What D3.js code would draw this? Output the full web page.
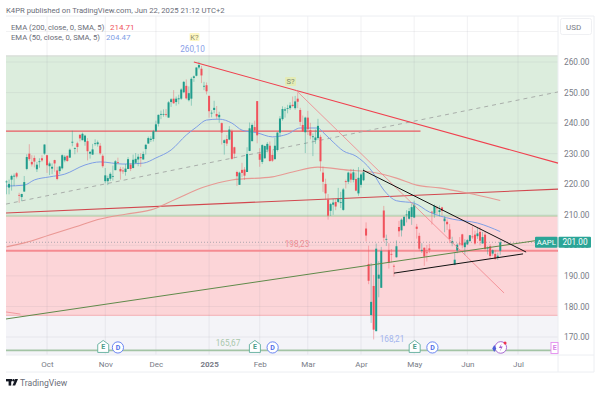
<!DOCTYPE html>
<html>
<head>
<meta charset="utf-8">
<script src="https://cdn.jsdelivr.net/npm/d3@7"></script>
<style>
    html, body { margin: 0; padding: 0; background: #fff; }
    svg { display: block; }
    text { font-family: Roboto, "Open Sans", sans-serif; }
</style>
</head>
<body>
<svg id="svg"></svg>
<script>
// daily bars, first one is 9 Sep 2024, one row per month
const opens = [
    220.8,218.9,221.5,222.5,223.6,216.5,215.8,217.6,225,230,227.3,228.6,224.9,227.3,228.5,230,
    229.5,225.9,225.1,227.9,224.5,224.3,225.2,227.8,229.3,228.7,233.6,231.6,233.4,236.2,234.4,233.9,234.1,230,229.7,233.3,233.1,232.6,229.3,
    221,221,221.8,222.6,224.6,227.2,225,224.5,224,225,226.4,225.3,227,228.1,228.9,228.1,231.5,233.3,234.5,234.8,
    237.3,239.8,242.9,243,242.9,241.8,246.9,248,246.9,247.8,248,250.1,252.2,247.5,248,254.8,255.5,258.2,257.8,252.2,252.4,
    248.9,243.4,244.3,243,241.9,240,233.5,234.8,234.6,237.4,232.1,224,219.8,224.7,224.8,224,230.9,234.1,238.7,247.2,
    230,227.3,228.5,231.3,232.6,229.6,228.2,231.2,236.9,241.3,244.1,244.7,244.9,246,244.9,248,244.3,239.4,237,
    241.8,237.7,235.4,234.4,235.1,235.5,223.8,220.1,215,211.3,213.3,214.2,214.2,214,211.6,221,220.8,223.5,221.4,221.7,217,
    219.8,221.3,205.5,193.9,177.2,186.7,171.9,189.1,186.1,211.4,202,198.4,197.2,193.3,196.1,206,204.9,206.4,210,208.7,209.3,
    209.1,206.1,203.1,198.2,199.2,197.7,199,211,210.4,212.4,210.9,212.4,207.9,207.7,205.2,200.7,193.7,198.3,200.6,203.6,199.4,
    200.3,201.4,202.9,203.5,203,204.4,200.6,203.5,199.1,199.7,197.3,197.2,195.9,198.2
];
const highs = [
    221.3,221.5,223.1,223.5,224,217.2,216.9,222.7,229.8,233.1,229.5,229.4,227.3,228.5,229.5,233,
    229.6,227.4,226.8,228,225.7,226,229.8,229.5,229.4,231.7,237.5,232.1,233.9,236.2,236.9,236.2,235.1,230.8,233.2,234.7,234.3,233.5,229.8,
    225.3,222.8,223.9,226.1,227.9,228.7,225.7,225.6,226.6,228.9,226.9,229.7,230.2,229.9,230.2,230.7,233.2,235.6,235.7,237.8,
    240.8,242.8,244.1,244.5,244.6,247.2,248.2,250.8,248.7,249.3,251.4,253.8,254.3,252,255,255.6,258.2,260.1,258.7,253.5,253.3,
    249.1,244.2,247.3,245.6,243.7,240.2,234.7,236.1,239,238,232.3,224.4,224.1,227,225.6,232.1,240.2,239.9,240.8,247.2,
    231.8,233.1,232.7,233.8,234,231,235.2,237,242.3,245.5,245.2,246,246.8,248.7,248.9,250,245,242.5,242.1,
    244,240.1,236.6,237.9,241.4,236.2,225.8,221.8,216.8,213.9,215.2,215.1,218.8,217.5,218.8,221.5,224.1,225,225,223.8,225.6,
    223.7,225.2,207.5,199.9,194.2,190.3,200.6,194.8,199.5,212.9,203.5,200.7,198.8,193.8,201.6,208,208.8,209.7,211.5,212.2,213.6,
    214.6,207,204.1,200.7,199.4,200.1,200.5,211.3,213.4,213,213,212.6,209.5,208.5,207,202.8,197.7,200.7,202.7,203.8,202,
    202.1,203.4,206.2,204.8,205.7,206,204.4,204.5,199.7,200.4,198.7,198.4,197.6,201.7
];
const lows = [
    216.7,216.7,217.9,219.4,221.9,213.9,214.5,217.5,224.6,227.6,225.8,225.5,224,225.4,227.3,229.6,
    223.7,223,223.3,224.1,221.3,223.3,224.8,227.2,227.3,228.6,232.4,229.8,230.4,234,234.4,232.6,227.8,228.4,229.6,232.6,232.3,229.6,225.4,
    220.3,219.7,221.1,221.2,224.6,226.7,221.5,223.4,222.8,225,224.3,225.2,226.7,225.9,225.7,228.1,229.7,233.3,233.8,234,
    237.2,238.9,241.3,242.1,242.1,241.8,245.3,246.3,245.7,246.2,247.6,249.8,247.7,247.1,245.7,253.5,255.3,257.6,253.1,250.8,249.4,
    241.8,241.9,243.2,241.4,240.1,233,229.7,232.5,234.4,228,228.5,219.4,219.8,222.3,221.4,224,230.8,234,237.2,233.4,
    225.7,226.6,228.3,230.4,227.3,227.3,228.1,230.7,235.6,240.8,241.8,243.2,244.3,245.2,244.4,244.9,239.1,237.1,230.2,
    236.1,234.7,229.2,233.2,234.5,224.2,217.5,214.9,208.4,209.6,210,211.5,213.8,212.2,211.3,218.6,220.1,220.5,220.6,217.7,216.2,
    218.9,221,201.3,187.3,174.6,169.2,171.9,183,186.1,201.2,199.8,192.4,194.4,189.8,196,202.8,202.9,206.2,207.5,208.4,206.7,
    208.9,202.2,198.2,197.5,193.3,194.7,197.5,206.8,209,210.2,209.5,209.8,204.3,205,200.7,199.7,193.5,197.4,199.9,199,196.8,
    200.1,201,202.1,200.2,202.1,200,200.6,198.4,197,195.7,196.6,195.2,195.2,196.9
];
const closes = [
    220.9,220.1,222.7,222.8,222.5,216.3,216.8,220.7,228.9,228.2,226.5,227.4,226.4,227.5,227.8,233,
    226.2,226.8,225.7,226.8,221.7,225.8,229.5,229,227.6,231.3,233.9,231.8,232.2,235,236.5,235.9,230.8,230.6,231.4,233.4,233.7,230.1,225.9,
    222.9,222,223.4,222.7,227.5,227,224.2,224.2,225.1,228.2,225,228,228.3,229,228.5,229.9,232.9,235.1,234.9,237.3,
    239.6,242.7,243,243,242.8,246.8,247.8,246.5,248,248.1,251,253.5,248.1,249.8,254.5,255.3,258.2,259,255.6,252.2,250.4,
    243.9,243.4,245,242.2,242.7,236.9,234.4,233.3,237.9,228.3,230,222.6,223.8,223.7,222.8,229.9,238.3,239.4,237.6,236,
    228,232.8,232.5,233.2,227.6,227.7,232.6,236.9,241.5,244.6,244.5,244.9,245.8,245.6,247.1,247,240.4,237.3,241.8,
    238,235.9,235.7,235.3,239.1,227.5,220.8,217,209.7,213.5,214,212.7,215.2,214.1,218.3,220.7,223.8,221.5,223.9,217.9,222.1,
    223.2,223.9,203.2,188.4,181.5,172.4,198.9,190.4,198.2,202.5,202.1,194.3,197,193.2,199.7,204.6,208.4,209.3,210.1,211.2,212.5,
    213.3,205.4,198.9,198.5,196.3,197.5,198.5,210.8,212.9,212.3,211.5,211.3,208.8,206.9,202.1,201.4,195.3,200.2,200.4,200,200.9,
    201.7,203.3,202.8,200.6,203.9,201.5,202.7,198.8,199.2,196.5,198.4,195.6,196.6,201
];

// moving averages: bar index / price
const sma50Bars = [0,7,11,17,23,31,37,46,54,59,65,71,75,79,84,89,93,99,105,111,116,123,125,129,133,138,144,149,154,161,167,176,186,195];
const sma50Vals = [219.4,219.7,221.4,222.4,223.3,226.3,227.3,226.6,226.9,228.6,231.2,236.1,238.7,241,241.3,240,237.7,236.8,235.5,236.4,238.4,238.4,237,233.8,230.9,229.2,224.6,218.1,214.6,213.8,210.9,208.6,207.3,204.5];
const sma200Bars = [0,7,17,27,37,47,57,67,78,89,105,113,123,135,144,154,162,171,182,195];
const sma200Vals = [199.5,200.8,203.4,206,208.6,210.2,211.6,215.2,219.1,221.4,222.4,224,225.6,224.6,224,222,219.7,218.8,217.1,214.7];

// drawings on the chart, [bar, price] at both ends
const thickRedTrend = [[74,260],[217.8,226.9]];
const thinRedTrend = [[114.3,250.8],[196.5,184.4]];
const dashedTrend = [[-0.2,213.5],[217.8,250.2]];
const darkRedTrend = [[-0.2,210.6],[217.8,218.4]];
const oliveTrend = [[-0.2,175.9],[208.7,201.5]];
const blackUpper = [[140.8,224.6],[205.2,197.8]];
const blackLower = [[153,190.9],[204,197.2]];
const smallPinkTrend = [[-0.2,178.2],[5.5,177.5]];

const level237 = 237.4;
const level198 = 198.23;
const lastPrice = 201;
const zoneTop = 262;
const zoneMid = 209.6;
const zoneLow = 177.1;
const baseLine = 165.6;

const priceTicks = [170,180,190,200,210,220,230,240,250,260];
const monthTicks = [16,39,59,80,100,119,140,161,182,202];
const monthLabels = ["Oct","Nov","Dec","2025","Feb","Mar","Apr","May","Jun","Jul"];

// earnings / dividend markers at the bottom of the chart
const earningsBars = [38.2,98.1,161.2];
const dividendBars = [44,105.1,168.2];

const UP = "#1f9c8c", DOWN = "#f0525c", GREY = "#787b86";

const svg = d3.select("#svg").attr("width", 600).attr("height", 393);

const x = d3.scaleLinear().domain([-0.2, 217.8]).range([6, 558]);
const y = d3.scaleLinear().domain([170, 260]).range([337, 62]);
const plotTop = 16, plotBottom = 355, axisBottom = 372, rightEdge = 594;

// background zones
svg.append("rect").attr("x", 6).attr("y", y(zoneTop)).attr("width", 552).attr("height", y(zoneMid) - y(zoneTop)).attr("fill", "#dcedDd");
svg.append("rect").attr("x", 6).attr("y", y(zoneMid)).attr("width", 552).attr("height", y(zoneLow) - y(zoneMid)).attr("fill", "#fcd5d8");
svg.append("rect").attr("x", 6).attr("y", y(zoneLow)).attr("width", 552).attr("height", plotBottom - y(zoneLow)).attr("fill", "#f4f4f8");
svg.append("line").attr("x1", 6).attr("x2", 558).attr("y1", y(zoneTop)).attr("y2", y(zoneTop)).attr("stroke", "#d8dcd8").attr("stroke-width", 1.2);
svg.append("line").attr("x1", 6).attr("x2", 558).attr("y1", y(zoneMid)).attr("y2", y(zoneMid)).attr("stroke", "#a9c99a").attr("stroke-width", 1);
svg.append("line").attr("x1", 6).attr("x2", 558).attr("y1", y(zoneLow)).attr("y2", y(zoneLow)).attr("stroke", "#f3aeb3").attr("stroke-width", 1);

// grid
const gridG = svg.append("g");
gridG.selectAll(".v").data(monthTicks).enter().append("line")
    .attr("x1", d => x(d)).attr("x2", d => x(d)).attr("y1", plotTop).attr("y2", plotBottom)
    .attr("stroke", "#8a8f9c").attr("stroke-opacity", 0.12);
gridG.selectAll(".h").data(priceTicks.concat([270])).enter().append("line")
    .attr("x1", 6).attr("x2", 558).attr("y1", d => y(d)).attr("y2", d => y(d))
    .attr("stroke", "#8a8f9c").attr("stroke-opacity", 0.12);

// frame
const frame = [[6, plotTop, rightEdge, plotTop], [558, plotTop, 558, axisBottom], [rightEdge, plotTop, rightEdge, axisBottom], [6, plotBottom, rightEdge, plotBottom], [6, axisBottom, rightEdge, axisBottom]];
svg.selectAll(".frame").data(frame).enter().append("line")
    .attr("x1", d => d[0]).attr("y1", d => d[1]).attr("x2", d => d[2]).attr("y2", d => d[3])
    .attr("stroke", "#eceef2");

// axes
const yAxis = svg.append("g").attr("transform", "translate(558,0)")
    .call(d3.axisRight(y).tickValues(priceTicks).tickSize(0).tickPadding(6).tickFormat(d3.format(".2f")));
yAxis.select(".domain").remove();
yAxis.selectAll("text").attr("fill", GREY).attr("font-size", 8.3).style("font-family", "Roboto");

const xAxis = svg.append("g").attr("transform", "translate(0," + plotBottom + ")")
    .call(d3.axisBottom(x).tickValues(monthTicks).tickSize(0).tickPadding(6).tickFormat((d, i) => monthLabels[i]));
xAxis.select(".domain").remove();
xAxis.selectAll("text").attr("fill", GREY).attr("font-size", 8).style("font-family", "Roboto")
    .attr("font-weight", (d, i) => monthLabels[i] === "2025" ? 700 : 400);

// lines that sit under the candles
const chartLine = d3.line().x(d => x(d[0])).y(d => y(d[1]));
function trend(pts, color, width, dash) {
    svg.append("path").attr("d", chartLine(pts)).attr("fill", "none")
        .attr("stroke", color).attr("stroke-width", width).attr("stroke-dasharray", dash || null);
}
trend([[-0.2, lastPrice],[217.8, lastPrice]], "#9a9aa5", 0.8, "1 2");
trend([[-0.2, level198],[217.8, level198]], "#f58b92", 2);
trend([[-0.2, level237],[163.5, level237]], "#ea5a62", 1.2);
trend(darkRedTrend, "#d2474e", 1.1);
trend(dashedTrend, "#a9aeaa", 1, "4 4");
trend(smallPinkTrend, "#f08a90", 0.8);

const maLine = d3.line().x((d, i) => x(d[0])).y(d => y(d[1])).curve(d3.curveMonotoneX);
svg.append("path").attr("d", maLine(d3.zip(sma200Bars, sma200Vals))).attr("fill", "none").attr("stroke", "#e8908c").attr("stroke-width", 1.1).attr("stroke-opacity", 0.9);
svg.append("path").attr("d", maLine(d3.zip(sma50Bars, sma50Vals))).attr("fill", "none").attr("stroke", "#7f9fe6").attr("stroke-width", 1);

// candles
const bars = d3.range(closes.length);
svg.append("g").selectAll("line").data(bars).enter().append("line")
    .attr("x1", i => x(i)).attr("x2", i => x(i)).attr("y1", i => y(highs[i])).attr("y2", i => y(lows[i]))
    .attr("stroke", i => closes[i] >= opens[i] ? UP : DOWN).attr("stroke-opacity", 0.4).attr("stroke-width", 1);
svg.append("g").selectAll("rect").data(bars).enter().append("rect")
    .attr("x", i => x(i) - 1)
    .attr("width", 2)
    .attr("y", i => y(Math.max(opens[i], closes[i])))
    .attr("height", i => Math.max(0.8, Math.abs(y(opens[i]) - y(closes[i]))))
    .attr("fill", i => closes[i] >= opens[i] ? UP : DOWN);

// trend lines on top
trend(thickRedTrend, "#f0404e", 1.1);
trend(thinRedTrend, "#f2838a", 0.8);
trend(oliveTrend, "#5f8a4a", 1);
trend(blackUpper, "#111", 1);
trend(blackLower, "#111", 1);
trend([[-0.2, baseLine],[217, baseLine]], "#a3c4a5", 1.8);

// header + legend
function label(px, py, str, color, size, anchor, weight) {
    return svg.append("text").attr("x", px).attr("y", py).attr("fill", color).attr("font-size", size)
        .attr("text-anchor", anchor || "start").attr("font-weight", weight || 400).text(str);
}
label(6, 13, "K4PR published on TradingView.com, Jun 22, 2025 21:12 UTC+2", "#6a6d78", 7.7);
label(11, 30, "EMA (200, close, 0, SMA, 5)", "#6a6d78", 7.7);
label(110, 30, "214.71", "#f0525c", 8);
label(11, 40, "EMA (50, close, 0, SMA, 5)", "#6a6d78", 7.7);
label(106, 40, "204.47", "#7f9fe6", 8);

// price labels on the chart
label(192.5, 52, "260,10", "#8b9fe8", 8.2, "middle");
label(392, 342, "168,21", "#a3b4ee", 8.2, "middle");
label(228, 346, "165,67", "#a9c8ab", 8.2, "middle");
label(297, 247, "198,23", "#ef8f95", 8.2, "middle");

// K? and S? badges
svg.append("rect").attr("x", 189.5).attr("y", 33).attr("width", 10).attr("height", 8).attr("rx", 1).attr("fill", "#fdf7c3");
label(194.5, 40, "K?", "#8f8f6a", 7.6, "middle");
svg.append("rect").attr("x", 285).attr("y", 77).attr("width", 11).attr("height", 9).attr("rx", 1).attr("fill", "#e4ecb5");
label(290.5, 84.3, "S?", "#7b8a70", 7.6, "middle");

// USD box
svg.append("rect").attr("x", 560.5).attr("y", 18.5).attr("width", 31).attr("height", 16).attr("rx", 2).attr("fill", "#fff").attr("stroke", "#eff0f3");
label(566, 29.5, "USD", GREY, 8);

// symbol tag
const tagY = y(lastPrice);
svg.append("rect").attr("x", 535).attr("y", tagY - 5.5).attr("width", 22.5).attr("height", 11).attr("rx", 1).attr("fill", "#2aa597");
svg.append("rect").attr("x", 558.5).attr("y", tagY - 5.5).attr("width", 32.5).attr("height", 11).attr("rx", 1).attr("fill", "#2aa597");
label(546.3, tagY + 3, "AAPL", "#fff", 7.8, "middle");
label(575, tagY + 3, "201.00", "#fff", 8.2, "middle");

// event markers
const eY = y(baseLine);
const eG = svg.append("g");
earningsBars.forEach(function (b) {
    const cx = x(b);
    eG.append("path").attr("d", d3.line()([[cx - 5.5, eY - 6], [cx, eY - 10], [cx + 5.5, eY - 6], [cx + 5.5, eY + 2], [cx - 5.5, eY + 2]]) + "Z")
        .attr("fill", "#fff").attr("stroke", "#5fae9c").attr("stroke-width", 0.9);
    label(cx, eY - 1, "E", "#4a9c8a", 7, "middle", 700);
});
dividendBars.forEach(function (b) {
    const cx = x(b);
    eG.append("circle").attr("cx", cx).attr("cy", eY - 3).attr("r", 5.6).attr("fill", "#fff").attr("stroke", "#5a78f0").attr("stroke-width", 0.9);
    label(cx, eY - 0.5, "D", "#4f6fe8", 7, "middle", 700);
});
// lightning marker near the end
const sX = x(195.2);
eG.append("circle").attr("cx", sX).attr("cy", eY - 3).attr("r", 5.8).attr("fill", "#fff").attr("stroke", "#a25fcf").attr("stroke-width", 0.9);
eG.append("path").attr("d", d3.line()([[sX + 1, eY - 7], [sX - 2, eY - 2.5], [sX + 0.3, eY - 2.5], [sX - 1, eY + 1], [sX + 2, eY - 4], [sX - 0.2, eY - 4]]) + "Z").attr("fill", "#a25fcf");
eG.append("circle").attr("cx", sX + 4.3).attr("cy", eY - 7.5).attr("r", 1.5).attr("fill", "#f0364e");
eG.append("path").attr("d", d3.symbol(d3.symbolDiamond, 14)()).attr("transform", "translate(" + (sX - 6.5) + "," + (eY - 2) + ")").attr("fill", "#4f5fd8");
svg.append("rect").attr("x", 551).attr("y", eY - 8).attr("width", 7).attr("height", 11).attr("fill", "#fff").attr("stroke", "#e58cf0").attr("stroke-width", 0.9);
label(554.6, eY - 0.3, "E", "#d77fe6", 7, "middle", 700);

// TradingView footer
const logo = svg.append("g").attr("transform", "translate(6,379)").attr("fill", "#131722");
logo.append("rect").attr("x", 0).attr("y", 0).attr("width", 6).attr("height", 2.4);
logo.append("rect").attr("x", 2.6).attr("y", 0).attr("width", 2.6).attr("height", 6.6);
logo.append("circle").attr("cx", 7.5).attr("cy", 1.3).attr("r", 1.2);
logo.append("path").attr("d", "M6.5 6.6 L9.2 0 H12 L9.2 6.6 Z");
label(20, 385.5, "TradingView", "#6a6d78", 8.6);
</script>
</body>
</html>
